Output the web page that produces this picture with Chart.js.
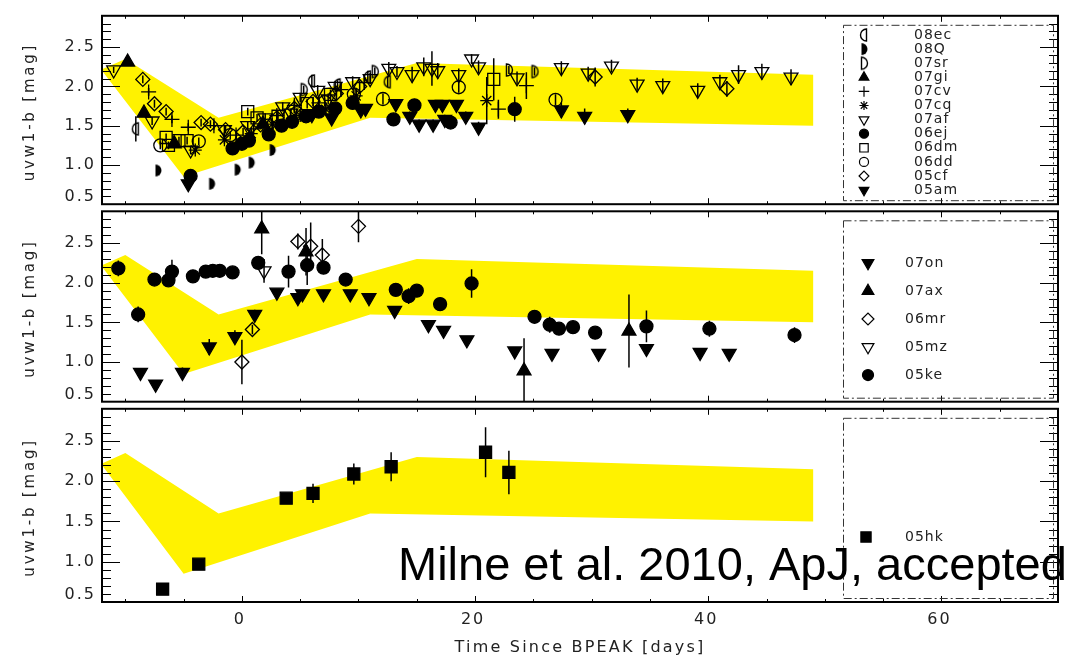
<!DOCTYPE html>
<html>
<head>
<meta charset="utf-8">
<title>uvw1-b colour evolution</title>
<script src="https://cdn.jsdelivr.net/npm/chart.js@4.4.1/dist/chart.umd.min.js"></script>
<style>
  html, body { margin: 0; padding: 0; background: #fff; }
  #wrap { position: relative; width: 1075px; height: 661px; overflow: hidden; }
  #wrap canvas { position: absolute; left: 0; }
</style>
</head>
<body>
<div id="wrap">
  <canvas id="panelTop"></canvas>
  <canvas id="panelMid"></canvas>
  <canvas id="panelBot"></canvas>
</div>
<script>
// ==========================================
// DATA
// ==========================================

// axis ranges + ticks
const X_MIN = -12, X_MAX = 70;
const Y_MIN = 0.5, Y_MAX = 2.9;
const xMajorTicks = [0, 20, 40, 60];
const xTickLabels = ['0', '20', '40', '60'];
const yMajorTicks = [0.5, 1.0, 1.5, 2.0, 2.5];
const yTickLabels = ['0.5', '1.0', '1.5', '2.0', '2.5'];

// template band: upper edge and lower edge, left to right [day, mag]
const bandUpper = [[-12, 2.22], [-10, 2.35], [-2, 1.60], [15, 2.30], [49, 2.15]];
const bandLower = [[-12, 2.20], [-5, 0.85], [11, 1.60], [49, 1.50]];

// --- top panel: [day, uvw1-b, error] ---
const sn08ec = [[-9.1, 1.46, 0.16], [6.0, 2.07, 0.08], [8.2, 2.02, 0.06], [10.8, 2.12, 0.08], [12.5, 2.06, 0.07]];
const sn08Q = [[-7.2, 0.93, 0.03], [-2.6, 0.76, 0.03], [-0.4, 0.94, 0.03], [0.8, 1.03, 0.03], [2.6, 1.19, 0.04]];
const sn07sr = [[5.3, 1.96, 0.05], [11.4, 2.19, 0.05], [22.9, 2.21, 0.05], [25.1, 2.19, 0.05]];
const sn07gi = [[-9.8, 2.31, 0.04], [-8.4, 1.66, 0.05], [-5.8, 1.27, 0.05], [1.8, 1.52, 0.05]];
const sn07cv = [[-8.0, 1.93, 0.05], [-6.0, 1.58, 0.05], [-4.6, 1.48, 0.05], [-2.4, 1.50, 0.05], [-0.5, 1.38, 0.06],
                [1.0, 1.46, 0.06], [3.0, 1.63, 0.06], [4.5, 1.76, 0.07], [6.6, 1.79, 0.07], [8.5, 1.96, 0.08],
                [10.5, 2.05, 0.08], [22.0, 1.71, 0.12], [24.4, 2.01, 0.17]];
const sn07cq = [[-4.0, 1.19, 0.05], [-1.5, 1.32, 0.05], [0.8, 1.40, 0.05], [2.6, 1.52, 0.06], [5.0, 1.63, 0.06],
                [7.2, 1.71, 0.07], [9.8, 1.88, 0.08], [21.0, 1.82, 0.30]];
const sn07af = [[-11.0, 2.21, 0.04], [-7.7, 1.56, 0.05], [-4.4, 1.19, 0.05], [-1.5, 1.45, 0.05], [0.5, 1.50, 0.05],
                [2.0, 1.60, 0.06], [3.5, 1.74, 0.06], [4.2, 1.66, 0.06], [5.0, 1.86, 0.06], [6.5, 1.95, 0.07],
                [7.4, 1.84, 0.07], [8.0, 2.00, 0.07], [9.5, 2.06, 0.07], [11.0, 2.10, 0.07], [12.6, 2.23, 0.08],
                [13.3, 2.19, 0.07], [14.6, 2.15, 0.10], [15.6, 2.25, 0.12], [16.3, 2.23, 0.22], [16.8, 2.20, 0.10],
                [18.6, 2.15, 0.08], [19.7, 2.35, 0.06], [20.3, 2.25, 0.08], [23.6, 2.11, 0.08], [27.4, 2.24, 0.08],
                [29.7, 2.17, 0.08], [31.7, 2.26, 0.08], [33.9, 2.03, 0.08], [36.1, 2.01, 0.09], [39.1, 1.95, 0.09],
                [41.0, 2.06, 0.09], [42.6, 2.15, 0.12], [44.6, 2.19, 0.10], [47.1, 2.12, 0.10]];
const sn06ej = [[-4.4, 0.86, 0.04], [-0.8, 1.21, 0.04], [0.0, 1.27, 0.04], [0.6, 1.31, 0.04], [2.3, 1.39, 0.04],
                [3.4, 1.50, 0.05], [4.3, 1.55, 0.05], [5.5, 1.62, 0.05], [6.6, 1.68, 0.05], [8.0, 1.72, 0.05],
                [9.5, 1.79, 0.05], [13.0, 1.58, 0.05], [14.8, 1.76, 0.06], [17.9, 1.54, 0.05], [23.4, 1.71, 0.16]];
const sn06dm = [[-6.5, 1.35, 0.05], [-5.4, 1.31, 0.05], [-4.7, 1.31, 0.05], [-6.3, 1.25, 0.05], [0.5, 1.68, 0.05],
                [1.3, 1.60, 0.05], [3.1, 1.62, 0.06], [5.6, 1.78, 0.06], [7.6, 1.90, 0.06], [21.6, 2.09, 0.27]];
const sn06dd = [[-7.0, 1.25, 0.05], [-3.7, 1.30, 0.05], [-1.0, 1.38, 0.05], [2.2, 1.50, 0.05], [4.7, 1.66, 0.06],
                [7.1, 1.80, 0.06], [9.6, 1.90, 0.07], [12.1, 1.84, 0.07], [18.6, 1.99, 0.07], [26.9, 1.83, 0.07]];
const sn05cf = [[-8.5, 2.09, 0.05], [-7.5, 1.78, 0.05], [-6.5, 1.68, 0.05], [-3.5, 1.54, 0.05], [-2.7, 1.52, 0.05],
                [-1.4, 1.45, 0.05], [0.1, 1.42, 0.05], [1.6, 1.51, 0.05], [3.0, 1.60, 0.06], [4.5, 1.72, 0.06],
                [6.1, 1.81, 0.06], [8.1, 1.91, 0.07], [10.1, 2.00, 0.07], [30.3, 2.12, 0.12], [41.6, 1.97, 0.10]];
const sn05am = [[-4.6, 0.76, 0.04], [6.0, 1.64, 0.06], [7.7, 1.60, 0.06], [10.2, 1.70, 0.05], [10.6, 1.72, 0.05],
                [13.2, 1.78, 0.05], [14.4, 1.62, 0.06], [15.2, 1.52, 0.06], [16.4, 1.52, 0.06], [16.6, 1.77, 0.05],
                [17.2, 1.77, 0.05], [17.4, 1.58, 0.06], [18.4, 1.77, 0.05], [19.2, 1.62, 0.06], [20.3, 1.48, 0.07],
                [27.4, 1.70, 0.10], [29.4, 1.62, 0.10], [33.1, 1.64, 0.08]];

// --- middle panel ---
const sn07on = [[-8.7, 0.87, 0.03], [-7.4, 0.72, 0.03], [-5.1, 0.87, 0.06], [-2.8, 1.19, 0.10], [-0.6, 1.32, 0.08],
                [1.1, 1.60, 0.06], [3.0, 1.88, 0.04], [4.8, 1.81, 0.04], [5.2, 1.86, 0.04], [7.0, 1.86, 0.04],
                [9.3, 1.86, 0.04], [10.9, 1.81, 0.04], [13.1, 1.65, 0.04], [16.0, 1.47, 0.03], [17.3, 1.40, 0.03],
                [19.3, 1.28, 0.03], [23.4, 1.14, 0.03], [26.6, 1.11, 0.03], [30.6, 1.11, 0.03], [34.7, 1.17, 0.03],
                [39.3, 1.12, 0.03], [41.8, 1.11, 0.03]];
const sn07ax = [[1.7, 2.68, 0.32], [5.5, 2.39, 0.30], [24.2, 0.89, 0.41], [33.2, 1.39, 0.46]];
const sn06mr = [[0.0, 1.00, 0.28], [0.9, 1.41, 0.06], [4.8, 2.52, 0.10], [5.9, 2.46, 0.30], [6.9, 2.35, 0.20], [10.0, 2.71, 0.20]];
const sn05mz = [[1.9, 2.15, 0.15]];
const sn05ke = [[-10.6, 2.18, 0.10], [-8.9, 1.60, 0.10], [-7.5, 2.04, 0.05], [-6.3, 2.03, 0.05], [-6.0, 2.14, 0.15],
                [-4.2, 2.08, 0.08], [-3.1, 2.14, 0.05], [-2.5, 2.15, 0.05], [-1.9, 2.15, 0.05], [-0.8, 2.13, 0.05],
                [1.4, 2.25, 0.05], [4.0, 2.14, 0.20], [5.6, 2.22, 0.25], [7.0, 2.19, 0.05], [8.9, 2.04, 0.05],
                [13.2, 1.91, 0.06], [14.3, 1.83, 0.10], [15.0, 1.90, 0.05], [17.0, 1.73, 0.05], [19.7, 1.99, 0.18],
                [25.1, 1.57, 0.08], [26.4, 1.47, 0.10], [27.2, 1.42, 0.05], [28.4, 1.44, 0.07], [30.3, 1.37, 0.07],
                [34.7, 1.45, 0.20], [40.1, 1.42, 0.10], [47.4, 1.34, 0.10]];

// --- bottom panel ---
const sn05hk = [[-6.8, 0.66, 0.02], [-3.7, 0.97, 0.02], [3.8, 1.79, 0.04], [6.1, 1.85, 0.12],
                [9.6, 2.09, 0.13], [12.8, 2.18, 0.18], [20.9, 2.36, 0.31], [22.9, 2.11, 0.27]];

const topSeries = [['08ec', sn08ec], ['08Q', sn08Q], ['07sr', sn07sr], ['07gi', sn07gi], ['07cv', sn07cv], ['07cq', sn07cq],
                   ['07af', sn07af], ['06ej', sn06ej], ['06dm', sn06dm], ['06dd', sn06dd], ['05cf', sn05cf], ['05am', sn05am]];
const midSeries = [['07on', sn07on], ['07ax', sn07ax], ['06mr', sn06mr], ['05mz', sn05mz], ['05ke', sn05ke]];
const botSeries = [['05hk', sn05hk]];

// ==========================================
// STYLE / LAYOUT
// ==========================================
const PLOT_LEFT = 102, PLOT_RIGHT = 1058, PAGE_W = 1075;
const BAND_YELLOW = '#fff200';
const AXIS_FONT = '"DejaVu Sans", sans-serif';
const INK = '#222';

// half-disc symbols (no built-in point style for these)
function halfDisc(side, filled) {
    const c = document.createElement('canvas');
    c.width = 16; c.height = 16;
    const g = c.getContext('2d');
    g.lineWidth = 1.4;
    g.strokeStyle = '#000';
    g.fillStyle = '#000';
    g.beginPath();
    if (side === 'left') g.arc(10.5, 8, 6, Math.PI / 2, Math.PI * 1.5);
    else g.arc(5.5, 8, 6, -Math.PI / 2, Math.PI / 2);
    g.closePath();
    if (filled) g.fill(); else g.stroke();
    return c;
}

const MARKERS = {
    '08ec': { style: halfDisc('left', false) },
    '08Q':  { style: halfDisc('right', true) },
    '07sr': { style: halfDisc('right', false) },
    '07gi': { style: 'triangle', r: 8, fill: true },
    '07cv': { style: 'cross', r: 7.5 },
    '07cq': { style: 'star', r: 6.5 },
    '07af': { style: 'triangle', rot: 180, r: 8 },
    '06ej': { style: 'circle', r: 6.5, fill: true },
    '06dm': { style: 'rect', r: 8.5 },
    '06dd': { style: 'circle', r: 6.5 },
    '05cf': { style: 'rectRot', r: 7 },
    '05am': { style: 'triangle', rot: 180, r: 8, fill: true },
    '07on': { style: 'triangle', rot: 180, r: 8, fill: true },
    '07ax': { style: 'triangle', r: 8, fill: true },
    '06mr': { style: 'rectRot', r: 7 },
    '05mz': { style: 'triangle', rot: 180, r: 8 },
    '05ke': { style: 'circle', r: 6.5, fill: true },
    '05hk': { style: 'rect', r: 8.5, fill: true }
};

// legend placement per panel (page coords)
const LEGEND_LAYOUT = [
    { markerX: 864, textX: 914, firstY: 35, stepY: 14.1, font: 14, r: 0.7 },
    { markerX: 868, textX: 905, firstY: 263, stepY: 28, font: 14, r: 0.85 },
    { markerX: 866, textX: 905, firstY: 537, stepY: 28, font: 14, r: 0.85 }
];

const PANELS = [
    { id: 'panelTop', top: 12, bottom: 208, series: topSeries },
    { id: 'panelMid', top: 208, bottom: 405, series: midSeries },
    { id: 'panelBot', top: 405, bottom: 602, series: botSeries, xAxis: true }
];

// ==========================================
// DATASETS
// ==========================================
function makeDataset(name, rows) {
    const m = MARKERS[name];
    const r = m.r || 6;
    return {
        label: name,
        data: rows.map(p => ({ x: p[0], y: p[1] })),
        errorBars: rows.map(p => p[2]),
        showLine: false,
        pointStyle: m.style,
        pointRotation: m.rot || 0,
        pointRadius: r,
        pointHoverRadius: r,
        pointBorderWidth: 1.3,
        pointBorderColor: '#000',
        pointBackgroundColor: m.fill ? '#000' : 'rgba(0,0,0,0)',
        borderColor: '#000',
        order: 1
    };
}

function bandDataset() {
    const outline = bandUpper.concat(bandLower.slice().reverse());
    return {
        label: 'band',
        data: outline.map(p => ({ x: p[0], y: p[1] })),
        showLine: true,
        fill: 'shape',
        tension: 0,
        backgroundColor: BAND_YELLOW,
        borderColor: BAND_YELLOW,
        borderWidth: 0,
        pointRadius: 0,
        order: 10
    };
}

// ==========================================
// PLUGINS
// ==========================================

// vertical error bars, drawn just before each dataset's markers
const errorBarPlugin = {
    id: 'errorBars',
    beforeDatasetDraw(chart, args) {
        const ds = chart.data.datasets[args.index];
        if (!ds.errorBars) return;
        const { ctx, chartArea: a, scales: { y } } = chart;
        ctx.save();
        ctx.beginPath();
        ctx.rect(a.left, a.top, a.right - a.left, a.bottom - a.top);
        ctx.clip();
        ctx.strokeStyle = '#000';
        ctx.lineWidth = 1.5;
        args.meta.data.forEach((pt, j) => {
            const v = ds.data[j].y, e = ds.errorBars[j];
            ctx.beginPath();
            ctx.moveTo(pt.x, y.getPixelForValue(v + e));
            ctx.lineTo(pt.x, y.getPixelForValue(v - e));
            ctx.stroke();
        });
        ctx.restore();
    }
};

function spacedText(ctx, text, x, y, spacing) {
    ctx.letterSpacing = spacing + 'px';
    ctx.fillText(text, x, y);
    ctx.letterSpacing = '0px';
}

// frame, inward ticks, labels and the dash-dot legend box
const framePlugin = {
    id: 'frame',
    afterDraw(chart, args, opts) {
        const { ctx, chartArea: a, scales: { x, y } } = chart;
        const off = opts.offsetY; // page y of canvas top
        ctx.save();

        // ticks on all four sides
        ctx.strokeStyle = '#000';
        ctx.lineWidth = 1;
        for (let d = -10; d <= X_MAX; d += 5) {
            const px = Math.round(x.getPixelForValue(d)) + 0.5;
            const len = xMajorTicks.includes(d) ? 6 : 3;
            ctx.beginPath();
            ctx.moveTo(px, a.bottom); ctx.lineTo(px, a.bottom - len);
            ctx.moveTo(px, a.top); ctx.lineTo(px, a.top + len);
            ctx.stroke();
        }
        for (let i = 6; i <= 28; i++) {
            const v = i / 10;
            const py = Math.round(y.getPixelForValue(v)) + 0.5;
            const len = yMajorTicks.some(t => Math.abs(t - v) < 1e-6) ? 18 : 9;
            ctx.beginPath();
            ctx.moveTo(a.left, py); ctx.lineTo(a.left + len, py);
            ctx.moveTo(a.right, py); ctx.lineTo(a.right - len, py);
            ctx.stroke();
        }

        // frame
        ctx.lineWidth = 2;
        ctx.strokeRect(a.left, a.top, a.right - a.left, a.bottom - a.top);

        // y tick labels
        ctx.fillStyle = INK;
        ctx.font = '16px ' + AXIS_FONT;
        ctx.textAlign = 'right';
        ctx.textBaseline = 'middle';
        yMajorTicks.forEach((v, i) => {
            const py = Math.min(y.getPixelForValue(v), a.bottom - 7);
            spacedText(ctx, yTickLabels[i], 96, py, 2);
        });

        // y title
        ctx.save();
        ctx.translate(30, (a.top + a.bottom) / 2 + 2);
        ctx.rotate(-Math.PI / 2);
        ctx.textAlign = 'center';
        ctx.font = '15px ' + AXIS_FONT;
        spacedText(ctx, 'uvw1-b [mag]', 0, 0, 2.8);
        ctx.restore();

        // legend box
        ctx.save();
        ctx.strokeStyle = '#333';
        ctx.lineWidth = 1;
        ctx.setLineDash([8, 3, 2, 3]);
        ctx.strokeRect(843.5, a.top + 9.5, 1053 - 843, a.bottom - a.top - 13);
        ctx.restore();

        const lay = opts.legend;
        ctx.textAlign = 'left';
        ctx.font = lay.font + 'px ' + AXIS_FONT;
        chart.data.datasets.forEach(ds => {
            if (!ds.errorBars) return;
            const k = opts.names.indexOf(ds.label);
            const ly = lay.firstY + k * lay.stepY - off;
            ctx.fillStyle = ds.pointBackgroundColor;
            ctx.strokeStyle = '#000';
            ctx.lineWidth = 1.2;
            Chart.helpers.drawPoint(ctx, {
                pointStyle: ds.pointStyle,
                rotation: ds.pointRotation,
                radius: ds.pointRadius * lay.r,
                borderWidth: 1.2
            }, lay.markerX, ly);
            ctx.fillStyle = INK;
            spacedText(ctx, ds.label, lay.textX, ly, 1);
        });

        if (opts.xAxis) {
            ctx.fillStyle = INK;
            ctx.font = '16px ' + AXIS_FONT;
            ctx.textAlign = 'center';
            ctx.textBaseline = 'middle';
            xMajorTicks.forEach((d, i) => {
                spacedText(ctx, xTickLabels[i], x.getPixelForValue(d) - 2, 620 - off, 2);
            });
            spacedText(ctx, 'Time Since BPEAK [days]', (a.left + a.right) / 2, 648 - off, 2.2);

            ctx.fillStyle = '#000';
            ctx.textAlign = 'left';
            ctx.textBaseline = 'alphabetic';
            ctx.font = '47px "Liberation Sans", Arial, sans-serif';
            ctx.fillText('Milne et al. 2010, ApJ, accepted', 398, 580 - off);
        }
        ctx.restore();
    }
};

// ==========================================
// BUILD PANELS
// ==========================================
PANELS.forEach((p, idx) => {
    const canvas = document.getElementById(p.id);
    const padTop = 6;
    const padBottom = p.xAxis ? 661 - p.bottom : 6;
    const canvasTop = p.top - padTop;
    canvas.width = PAGE_W;
    canvas.height = p.bottom - p.top + padTop + padBottom;
    canvas.style.top = canvasTop + 'px';

    const datasets = [bandDataset()].concat(p.series.map(s => makeDataset(s[0], s[1])));

    new Chart(canvas, {
        type: 'scatter',
        data: { datasets },
        options: {
            responsive: false,
            animation: false,
            events: [],
            layout: { padding: { left: PLOT_LEFT, right: PAGE_W - PLOT_RIGHT, top: padTop, bottom: padBottom } },
            scales: {
                x: { type: 'linear', min: X_MIN, max: X_MAX, display: false },
                y: { type: 'linear', min: Y_MIN, max: Y_MAX, display: false }
            },
            plugins: {
                legend: { display: false },
                tooltip: { enabled: false },
                frame: {
                    offsetY: canvasTop,
                    legend: LEGEND_LAYOUT[idx],
                    names: p.series.map(s => s[0]),
                    xAxis: !!p.xAxis
                }
            }
        },
        plugins: [errorBarPlugin, framePlugin]
    });
});
</script>
</body>
</html>
